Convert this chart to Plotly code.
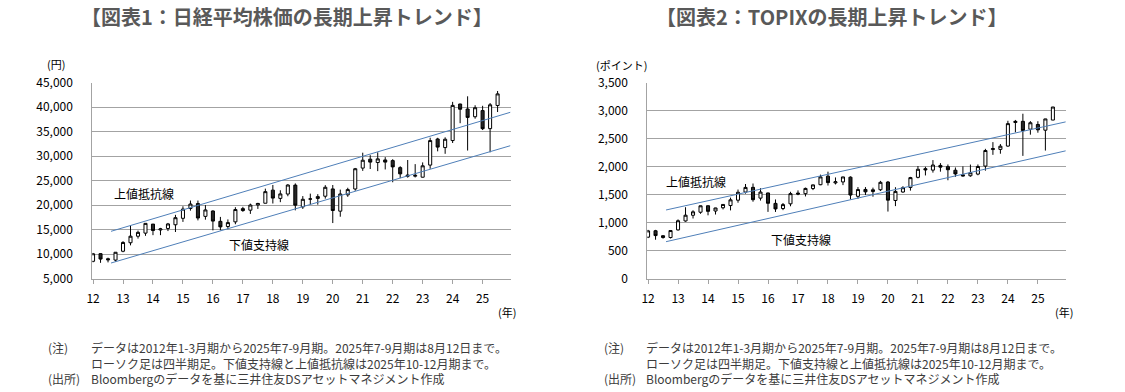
import plotly.graph_objects as go

W, H = 1125, 392

# ---------------- data ----------------
quarters = [f"{y}Q{q}" for y in range(2012, 2026) for q in (1, 2, 3, 4)][:55]
year_labels = ["12", "13", "14", "15", "16", "17", "18", "19", "20", "21", "22", "23", "24", "25"]

nk_open = [8549, 10110, 9069, 8797, 10604, 12336, 13668, 14300, 16147, 14947, 15253, 16006,
           17326, 19329, 20329, 17722, 18818, 16707, 15650, 16600, 19298, 18983, 20048, 20400,
           23073, 21388, 22278, 24100, 19655, 21245, 21379, 21831, 23320, 18784, 22108, 23308,
           27575, 29389, 28707, 29235, 29098, 27666, 26153, 25921, 25717, 28188, 33517, 31759,
           33193, 40646, 39631, 38053, 39307, 35624, 40352]
nk_high = [10255, 10190, 9289, 10434, 12650, 15942, 14817, 16320, 16164, 15376, 16378, 18030,
           19778, 20952, 20946, 20012, 18951, 17613, 17100, 19592, 19668, 20318, 20481, 23382,
           24129, 23050, 24286, 24448, 21860, 22362, 22255, 24091, 24116, 23179, 23559, 27602,
           30715, 30208, 30795, 29808, 29388, 27954, 29222, 28383, 28734, 33772, 33753, 33853,
           41087, 40697, 42224, 40398, 40288, 40852, 43309]
nk_low = [8349, 8238, 8328, 8488, 10399, 11805, 13188, 13748, 13885, 13885, 14720, 14529,
          16592, 18885, 16901, 17045, 14866, 14864, 15106, 16111, 18650, 18224, 19239, 20398,
          20347, 20617, 21824, 18949, 19241, 20110, 20110, 21341, 16358, 17646, 21710, 22948,
          27002, 27385, 26954, 27294, 24681, 25520, 25621, 25661, 25662, 27427, 30994, 30487,
          32693, 36733, 31156, 37651, 35338, 30792, 39017]
nk_close = [10084, 9007, 8870, 10395, 12398, 13677, 14456, 16291, 14828, 15162, 16174, 17451,
            19207, 20236, 17388, 19034, 16759, 15576, 16450, 19114, 18909, 20033, 20356, 22765,
            21454, 22305, 24120, 20015, 21206, 21276, 21756, 23657, 18917, 22288, 23185, 27444,
            29179, 28792, 29453, 28792, 27821, 26393, 25937, 26095, 28041, 33189, 31858, 33464,
            40369, 39583, 37919, 39894, 35617, 40487, 42718]

tp_open = [742, 856, 767, 735, 871, 1031, 1133, 1187, 1303, 1209, 1267, 1306,
           1402, 1547, 1631, 1439, 1531, 1345, 1253, 1337, 1529, 1518, 1610, 1678,
           1831, 1710, 1728, 1813, 1471, 1594, 1556, 1589, 1726, 1397, 1548, 1630,
           1810, 1965, 1939, 2023, 2000, 1937, 1855, 1838, 1868, 2011, 2306, 2309,
           2368, 2789, 2810, 2670, 2754, 2652, 2833]
tp_high = [872, 872, 779, 862, 1059, 1276, 1222, 1306, 1306, 1267, 1330, 1448,
           1592, 1691, 1700, 1616, 1536, 1415, 1352, 1552, 1577, 1627, 1680, 1858,
           1911, 1808, 1821, 1827, 1636, 1636, 1626, 1747, 1745, 1634, 1652, 1818,
           2012, 1999, 2118, 2064, 2040, 1986, 2006, 2038, 2040, 2319, 2439, 2404,
           2820, 2835, 2946, 2814, 2812, 2855, 3067]
tp_low = [725, 696, 715, 718, 859, 1018, 1075, 1159, 1132, 1146, 1237, 1220,
          1357, 1519, 1375, 1395, 1193, 1192, 1224, 1293, 1491, 1469, 1582, 1670,
          1664, 1683, 1671, 1415, 1428, 1495, 1464, 1566, 1199, 1296, 1535, 1573,
          1792, 1844, 1894, 1911, 1758, 1819, 1824, 1820, 1847, 1929, 2212, 2232,
          2357, 2614, 2193, 2572, 2607, 2288, 2832]
tp_close = [854, 770, 737, 860, 1035, 1134, 1194, 1302, 1203, 1263, 1326, 1408,
            1543, 1630, 1411, 1547, 1347, 1246, 1323, 1519, 1513, 1612, 1675, 1818,
            1716, 1731, 1817, 1494, 1592, 1551, 1588, 1721, 1403, 1559, 1625, 1805,
            1954, 1944, 2030, 1992, 1946, 1871, 1836, 1892, 2004, 2289, 2323, 2366,
            2769, 2810, 2646, 2785, 2659, 2853, 3066]

# trend lines (from 2012 H2 to 2025 Q4 / chart edge)
trend_x = [2.4, 55.7]
nk_upper = [14670, 38960]
nk_lower = [8200, 32140]
tp_upper = [1227, 2800]
tp_lower = [661, 2283]

note_label = "(注)<br><br>(出所)"
note_text = ("データは2012年1-3月期から2025年7-9月期。2025年7-9月期は8月12日まで。<br>"
             "ローソク足は四半期足。下値支持線と上値抵抗線は2025年10-12月期まで。<br>"
             "Bloombergのデータを基に三井住友DSアセットマネジメント作成")

# ---------------- layout helpers ----------------
def px(x, y):
    return x / W, 1 - y / H

FONT = "Noto Sans CJK JP, Noto Sans, sans-serif"
GRID = "#a3a3a3"
TREND = "#4f7fb8"
TITLE_C = "#595959"
NOTE_C = "#3c3c3c"

x_pos = list(range(len(quarters)))
tickvals = list(range(0, 55, 4))

fig = go.Figure()

def add_candles(o, h, l, c, xa, ya):
    fig.add_trace(go.Candlestick(
        x=x_pos, open=o, high=h, low=l, close=c,
        xaxis=xa, yaxis=ya, whiskerwidth=0,
        increasing=dict(fillcolor="white", line=dict(color="black", width=1)),
        decreasing=dict(fillcolor="#262626", line=dict(color="black", width=1)),
        showlegend=False, hoverinfo="skip"))

def add_trend(up, lo, xa, ya):
    for vals in (up, lo):
        fig.add_trace(go.Scatter(x=trend_x, y=vals, mode="lines", xaxis=xa, yaxis=ya,
                                 line=dict(color=TREND, width=1), showlegend=False,
                                 hoverinfo="skip"))

add_trend(nk_upper, nk_lower, "x", "y")
add_candles(nk_open, nk_high, nk_low, nk_close, "x", "y")
add_trend(tp_upper, tp_lower, "x2", "y2")
add_candles(tp_open, tp_high, tp_low, tp_close, "x2", "y2")

ydom = [1 - 278.7 / H, 1 - 82.7 / H]
xcommon = dict(range=[-0.1, 55.75], tickvals=tickvals, ticktext=year_labels,
               ticks="outside", ticklen=4, tickcolor=GRID, showline=True, linecolor=GRID,
               showgrid=False, zeroline=False, rangeslider=dict(visible=False),
               tickfont=dict(family=FONT, size=12, color="black"), ticklabelstandoff=5,
               fixedrange=True, automargin=False)
ycommon = dict(showline=True, linecolor=GRID, showgrid=True, gridcolor=GRID, gridwidth=1,
               zeroline=False, ticks="", tickformat=",d", ticklabelstandoff=16,
               tickfont=dict(family=FONT, size=12, color="black"), fixedrange=True,
               automargin=False)

fig.update_layout(
    width=W, height=H, autosize=False,
    margin=dict(l=0, r=0, t=0, b=0, pad=0, autoexpand=False),
    paper_bgcolor="white", plot_bgcolor="white", boxgap=0.42,
    xaxis=dict(domain=[92.3 / W, 510.7 / W], anchor="y", **xcommon),
    yaxis=dict(domain=ydom, anchor="x", range=[5000, 45000], dtick=5000, **ycommon),
    xaxis2=dict(domain=[647.3 / W, 1066 / W], anchor="y2", **xcommon),
    yaxis2=dict(domain=ydom, anchor="x2", range=[0, 3500], dtick=500, **ycommon),
)

ann = []
def text(x, y, s, size=12, color="black", bold=False, xanchor="center", align="center"):
    ax, ay = px(x, y)
    ann.append(dict(x=ax, y=ay, xref="paper", yref="paper", text=f"<b>{s}</b>" if bold else s,
                    showarrow=False, xanchor=xanchor, yanchor="middle", align=align,
                    font=dict(family=FONT, size=size, color=color)))

text(286.5, 16, "【図表1：日経平均株価の長期上昇トレンド】", size=20, color=TITLE_C, bold=True)
text(831.5, 16, "【図表2：TOPIXの長期上昇トレンド】", size=20, color=TITLE_C, bold=True)
text(56, 64, "(円)", size=11)
text(621, 65, "(ポイント)", size=11)
text(144, 193, "上値抵抗線", size=12)
text(258.5, 244, "下値支持線", size=12)
text(695.5, 181, "上値抵抗線", size=12)
text(800.5, 239, "下値支持線", size=12)
text(506.5, 311.5, "(年)", size=11)
text(1063.5, 312, "(年)", size=11)

for x0, x1 in ((46, 89), (602, 644)):
    text(x0, 363, note_label, size=12, color=NOTE_C, xanchor="left", align="left")
    text(x1, 363, note_text, size=12, color=NOTE_C, xanchor="left", align="left")

fig.update_layout(annotations=ann)
fig.write_html("out.html", config={"displayModeBar": False},
               post_script="document.body.style.margin='0px';")
